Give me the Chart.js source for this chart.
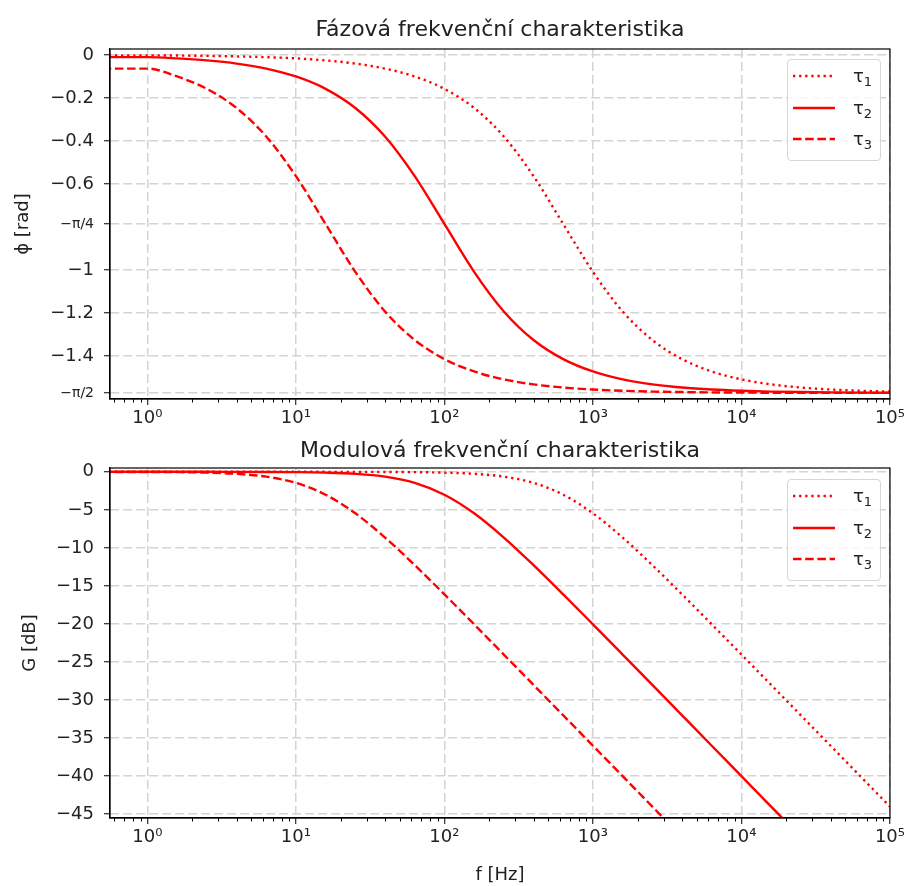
<!DOCTYPE html>
<html>
<head>
<meta charset="utf-8">
<script src="https://cdn.jsdelivr.net/npm/chart.js@4.4.1/dist/chart.umd.min.js"></script>
<style>
  body { margin: 0; background: #fff; }
  #wrap { position: relative; width: 908px; height: 886px; font-family: "DejaVu Sans", sans-serif; }
  canvas { position: absolute; left: 0; }
  .legend { position: absolute; left: 787px; width: 94px; height: 102px; box-sizing: border-box;
            background: rgba(255,255,255,0.8); border: 1px solid #d6d6d6; border-radius: 4px; }
  .legend svg { position: absolute; left: 5px; }
  .legend span { position: absolute; left: 65px; font-size: 18px; line-height: 18px; color: #222; }
  .legend sub { font-size: 13px; vertical-align: -4px; line-height: 0; }
</style>
</head>
<body>
<div id="wrap">
  <canvas id="phaseChart" width="908" height="430" style="top:0"></canvas>
  <canvas id="gainChart" width="908" height="456" style="top:430px"></canvas>
  <div class="legend" style="top:59px" id="legendTop"></div>
  <div class="legend" style="top:479px" id="legendBottom"></div>
</div>
<script>
// frequency points [Hz]
var freq = [0.5, 1, 1.585, 2.512, 3.981, 6.31, 10, 15.85, 25.12, 39.81, 63.1, 100, 158.5, 251.2,
            398.1, 631, 1000, 1585, 2512, 3981, 6310, 10000, 15850, 25120, 39810, 63100, 100000];

// phase [rad]
var phase1 = [-0.0016, -0.0016, -0.0025, -0.0040, -0.0063, -0.0100, -0.0158, -0.0251, -0.0398, -0.0630,
              -0.0997, -0.1572, -0.2461, -0.3788, -0.5630, -0.7854, -1.0078, -1.1920, -1.3247, -1.4136,
              -1.4711, -1.5078, -1.5310, -1.5457, -1.5550, -1.5608, -1.5645];
var phase2 = [-0.0100, -0.0100, -0.0158, -0.0251, -0.0398, -0.0630, -0.0997, -0.1572, -0.2461, -0.3788,
              -0.5630, -0.7854, -1.0078, -1.1920, -1.3247, -1.4136, -1.4711, -1.5078, -1.5310, -1.5457,
              -1.5550, -1.5608, -1.5645, -1.5668, -1.5683, -1.5692, -1.5698];
var phase3 = [-0.0630, -0.0630, -0.0997, -0.1572, -0.2461, -0.3788, -0.5630, -0.7854, -1.0078, -1.1920,
              -1.3247, -1.4136, -1.4711, -1.5078, -1.5310, -1.5457, -1.5550, -1.5608, -1.5645, -1.5668,
              -1.5683, -1.5692, -1.5698, -1.5702, -1.5704, -1.5705, -1.5706];

// gain [dB]
var gain1 = [0, 0, 0, -0.0001, -0.0002, -0.0004, -0.0011, -0.0027, -0.0069, -0.0173,
             -0.0432, -0.108, -0.266, -0.639, -1.455, -3.010, -5.455, -8.639, -12.266, -16.108,
             -20.043, -24.017, -28.007, -32.003, -36.001, -40.0, -44.0];
var gain2 = [-0.0004, -0.0004, -0.0011, -0.0027, -0.0069, -0.0173, -0.0432, -0.108, -0.266, -0.639,
             -1.455, -3.010, -5.455, -8.639, -12.266, -16.108, -20.043, -24.017, -28.007, -32.003,
             -36.001, -40.0, -44.0, -48.0, -52.0, -56.0, -60.0];
var gain3 = [-0.0173, -0.0173, -0.0432, -0.108, -0.266, -0.639, -1.455, -3.010, -5.455, -8.639,
             -12.266, -16.108, -20.043, -24.017, -28.007, -32.003, -36.001, -40.0, -44.0, -48.0,
             -52.0, -56.0, -60.0, -64.0, -68.0, -72.0, -76.0];

var seriesNames = ["τ1", "τ2", "τ3"];

// tick labels
var phaseTicks = [-Math.PI / 2, -1.4, -1.2, -1, -Math.PI / 4, -0.6, -0.4, -0.2, 0];
var phaseTickLabels = ["−π/2", "−1.4", "−1.2", "−1", "−π/4", "−0.6", "−0.4", "−0.2", "0"];
var gainTicks = [-45, -40, -35, -30, -25, -20, -15, -10, -5, 0];
var gainTickLabels = ["−45", "−40", "−35", "−30", "−25", "−20", "−15", "−10", "−5", "0"];
var decadeLabels = ["10⁰", "10¹", "10²", "10³", "10⁴", "10⁵"];

var RED = "#ff0000";
var FONT = "'DejaVu Sans', sans-serif";
var GRID = "#d4d4d4";
var dashes = [[2.3, 3.8], [], [8.5, 3.7]];

// log tick positions: decades plus 2..9 minors
var xTicks = [0.6, 0.7, 0.8, 0.9];
for (var e = 0; e <= 5; e++) {
  xTicks.push(Math.pow(10, e));
  if (e < 5) for (var m = 2; m <= 9; m++) xTicks.push(m * Math.pow(10, e));
}
function isDecade(v) {
  var l = Math.log10(v);
  return Math.abs(l - Math.round(l)) < 1e-9;
}

// box round the axes + short minor ticks
var frame = {
  id: "frame",
  afterDatasetsDraw(chart) {
    var ctx = chart.ctx, a = chart.chartArea, xs = chart.scales.x;
    ctx.save();
    ctx.strokeStyle = "#000";
    ctx.lineWidth = 1.2;
    ctx.strokeRect(a.left, a.top, a.right - a.left, a.bottom - a.top);
    ctx.lineWidth = 1;
    xs.ticks.forEach(function (t) {
      if (isDecade(t.value)) return;
      var px = Math.round(xs.getPixelForValue(t.value)) + 0.5;
      ctx.beginPath();
      ctx.moveTo(px, a.bottom);
      ctx.lineTo(px, a.bottom + 3.5);
      ctx.stroke();
    });
    ctx.restore();
  }
};

function makeSets(vals) {
  return vals.map(function (ys, i) {
    return {
      label: seriesNames[i],
      data: freq.map(function (f, j) { return { x: f, y: ys[j] }; }),
      borderColor: RED,
      borderWidth: 2.4,
      borderDash: dashes[i],
      borderCapStyle: "butt",
      pointRadius: 0,
      cubicInterpolationMode: "monotone",
      fill: false
    };
  });
}

function makeChart(canvasId, opts) {
  return new Chart(document.getElementById(canvasId), {
    type: "line",
    data: { datasets: makeSets(opts.series) },
    options: {
      responsive: false,
      animation: false,
      layout: { padding: { left: 0, right: 17, top: 0, bottom: 0 } },
      plugins: {
        legend: { display: false },
        tooltip: { enabled: false },
        title: {
          display: true,
          fullSize: false,
          text: opts.title,
          color: "#222",
          font: { family: FONT, size: 22, weight: "normal" },
          padding: opts.titlePad
        }
      },
      scales: {
        x: {
          type: "logarithmic",
          min: 0.56,
          max: 100000,
          afterBuildTicks: function (s) {
            s.ticks = xTicks.map(function (v) { return { value: v }; });
          },
          afterFit: function (s) { s.height = opts.xHeight; },
          ticks: {
            autoSkip: false,
            maxRotation: 0,
            padding: 3,
            color: "#222",
            font: { family: FONT, size: 18 },
            callback: function (v) {
              return isDecade(v) ? decadeLabels[Math.round(Math.log10(v))] : "";
            }
          },
          grid: {
            color: function (c) { return c.tick && isDecade(c.tick.value) ? GRID : "transparent"; },
            lineWidth: 1.5,
            tickColor: function (c) { return c.tick && isDecade(c.tick.value) ? "#000" : "transparent"; },
            tickLength: 6,
            tickWidth: 1
          },
          border: { color: "#000", width: 1.2, dash: [9, 4] },
          title: {
            display: !!opts.xTitle,
            text: opts.xTitle || "",
            color: "#222",
            font: { family: FONT, size: 18 },
            padding: 0
          }
        },
        y: {
          type: "linear",
          min: opts.yMin,
          max: opts.yMax,
          afterBuildTicks: function (s) {
            s.ticks = opts.yTicks.map(function (v) { return { value: v }; });
          },
          afterFit: function (s) { s.width = 110; },
          ticks: {
            autoSkip: false,
            padding: 10,
            color: "#222",
            font: function (c) {
              var lab = opts.yLabels[c.index] || "";
              return { family: FONT, size: lab.indexOf("π") >= 0 ? 14 : 18 };
            },
            callback: function (v, i) { return opts.yLabels[i]; }
          },
          grid: { color: GRID, lineWidth: 1.5, tickColor: "#000", tickLength: 6, tickWidth: 1 },
          border: { color: "#000", width: 1.2, dash: [9, 4] },
          title: {
            display: true,
            text: opts.yTitle,
            color: "#222",
            font: { family: FONT, size: 18 },
            padding: opts.yTitlePad
          }
        }
      }
    },
    plugins: [frame]
  });
}

makeChart("phaseChart", {
  series: [phase1, phase2, phase3],
  title: "Fázová frekvenční charakteristika",
  titlePad: { top: 17, bottom: 5.6 },
  xHeight: 31,
  yMin: -1.599, yMax: 0.028,
  yTicks: phaseTicks, yLabels: phaseTickLabels,
  yTitle: "ϕ [rad]", yTitlePad: 13
});

makeChart("gainChart", {
  series: [gain1, gain2, gain3],
  title: "Modulová frekvenční charakteristika",
  titlePad: { top: 7.8, bottom: 3.8 },
  xHeight: 68,
  xTitle: "f [Hz]",
  yMin: -45.5, yMax: 0.5,
  yTicks: gainTicks, yLabels: gainTickLabels,
  yTitle: "G [dB]", yTitlePad: 20
});

// legends
function buildLegend(id) {
  var box = document.getElementById(id);
  var rows = [17, 49, 80];
  seriesNames.forEach(function (name, i) {
    var svg = '<svg width="44" height="6" style="top:' + (rows[i] - 4) + 'px">' +
      '<line x1="0" y1="3" x2="42" y2="3" stroke="' + RED + '" stroke-width="2.4"' +
      (dashes[i].length ? ' stroke-dasharray="' + dashes[i].join(",") + '"' : '') + '/></svg>';
    var txt = '<span style="top:' + (rows[i] - 10) + 'px">τ<sub>' + name.slice(1) + '</sub></span>';
    box.insertAdjacentHTML("beforeend", svg + txt);
  });
}
buildLegend("legendTop");
buildLegend("legendBottom");
</script>
</body>
</html>
